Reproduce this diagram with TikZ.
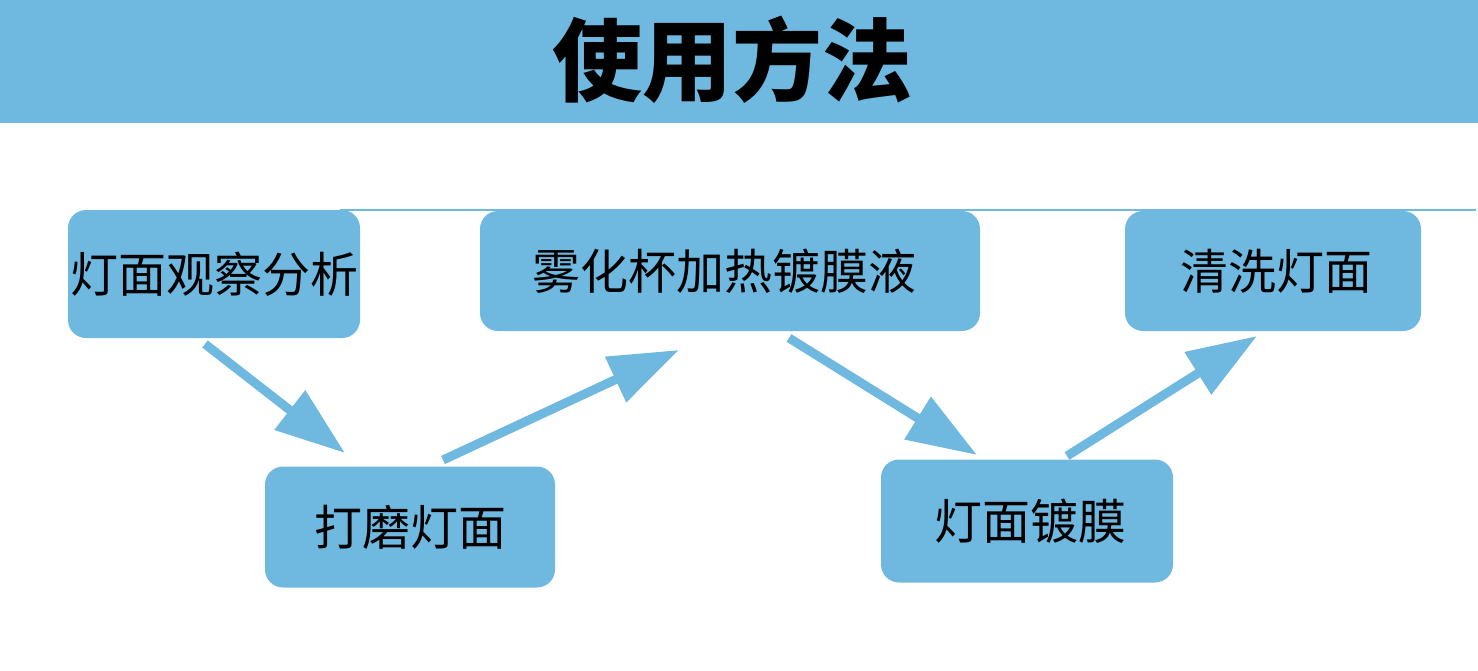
\documentclass[tikz,border=0pt]{standalone}
\usepackage{fontspec}
\newfontfamily\cjk{Noto Sans CJK SC}
\usetikzlibrary{arrows.meta}
\definecolor{sky}{RGB}{111,185,225}
\begin{document}
\begin{tikzpicture}[x=1pt,y=-1pt,
  box/.style={fill=sky, rounded corners=18pt, inner sep=0pt, text=black,
    font=\cjk\fontsize{48}{48}\selectfont},
  flow/.style={draw=sky, line width=9pt, -{Triangle[length=70pt,width=48pt]}}]
\useasboundingbox (0,0) rectangle (1478,670);
\fill[sky] (0,0) rectangle (1478,123);
\node (title) at (732,60) {\cjk\bfseries\fontsize{90}{90}\selectfont 使用方法};
\draw[sky, line width=2pt] (340,210) -- (1476,210);
\node[box, minimum width=292pt, minimum height=128pt] (b1) at (214,274) {\raisebox{4pt}{灯面观察分析}};
\node[box, minimum width=500pt, minimum height=120pt] (b2) at (730,271) {\hspace*{-12pt}\raisebox{3pt}{雾化杯加热镀膜液}};
\node[box, minimum width=296pt, minimum height=120pt] (b3) at (1273,271) {\hspace*{6pt}清洗灯面};
\node[box, minimum width=290pt, minimum height=121pt] (b4) at (410,527) {打磨灯面};
\node[box, minimum width=292pt, minimum height=123pt] (b5) at (1027,521) {\hspace*{6pt}\raisebox{3pt}{灯面镀膜}};
\coordinate (s1) at (205,344); \coordinate (e1) at (345,453);
\coordinate (s2) at (443,460); \coordinate (e2) at (679,350);
\coordinate (s3) at (789,338); \coordinate (e3) at (977,455);
\coordinate (s4) at (1067,456); \coordinate (e4) at (1257,336);
\draw[flow] (s1) -- (e1);
\draw[flow] (s2) -- (e2);
\draw[flow] (s3) -- (e3);
\draw[flow] (s4) -- (e4);
\end{tikzpicture}
\end{document}
